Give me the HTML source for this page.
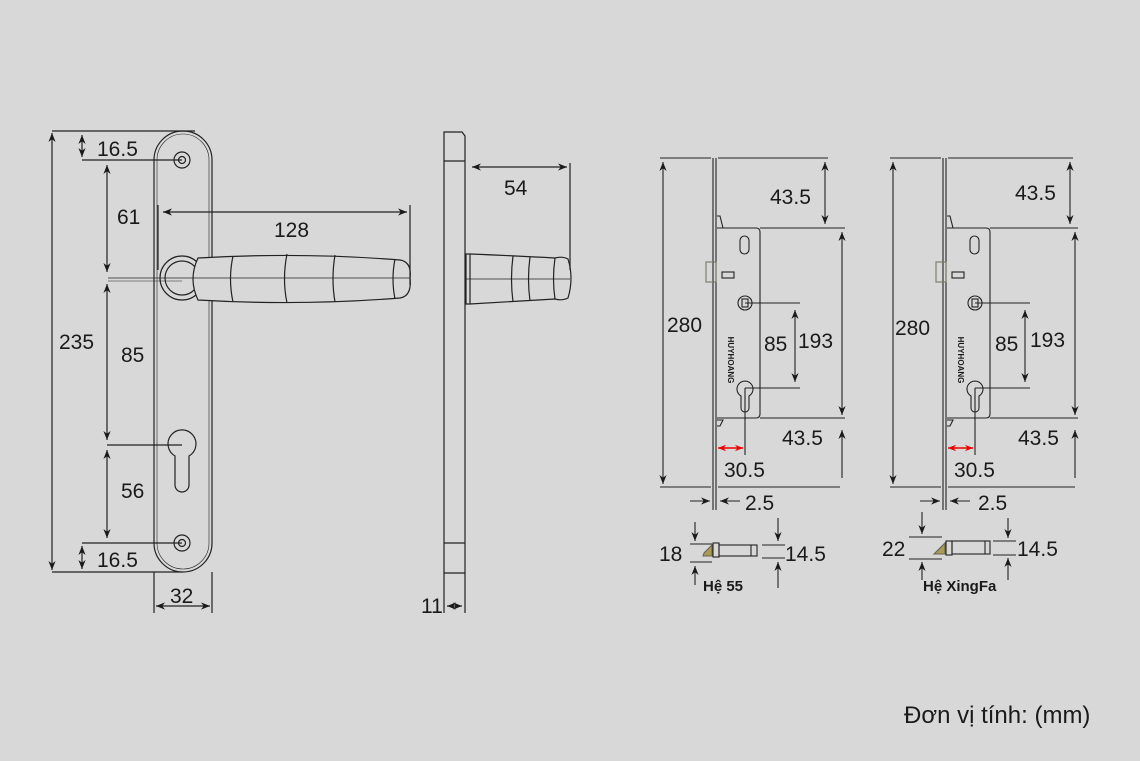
<!DOCTYPE html>
<html><head><meta charset="utf-8"><style>
body{margin:0;background:#d8d8d8;}
svg{display:block}
text{font-family:"Liberation Sans",sans-serif;fill:#1a1a1a;}
</style></head><body>
<svg width="1140" height="761" viewBox="0 0 1140 761" xmlns="http://www.w3.org/2000/svg">
<defs>
<marker id="a" viewBox="0 0 10 10" refX="10" refY="5" markerUnits="userSpaceOnUse" markerWidth="10" markerHeight="9" orient="auto-start-reverse"><path d="M0,1 L10,5 L0,9 L3,5z" fill="#1a1a1a"/></marker>
<marker id="r" viewBox="0 0 10 10" refX="10" refY="5" markerUnits="userSpaceOnUse" markerWidth="8" markerHeight="8" orient="auto-start-reverse"><path d="M0,1 L10,5 L0,9 L3,5z" fill="#e00"/></marker>
</defs>
<rect width="1140" height="761" fill="#d8d8d8"/>
<g stroke="#222" stroke-width="1.2" fill="none">
<rect x="154" y="131" width="58" height="441" rx="29"/>
<rect x="157" y="134" width="52" height="435" rx="26" stroke-width="0.6"/>
<circle cx="182" cy="160" r="8"/><circle cx="182" cy="160" r="3.5"/>
<circle cx="182" cy="543" r="8"/><circle cx="182" cy="543" r="3.5"/>
<path d="M175,456 A14,14 0 1 1 189,456 L189,485 A7,7 0 0 1 175,485 Z"/>
<circle cx="182" cy="278" r="22" fill="#d8d8d8"/>
<circle cx="182" cy="278" r="17"/>
<path d="M198,258 Q300,252 400,260 Q412,262 410,278 Q412,296 400,298 Q300,306 198,300 Q188,279 198,258Z" fill="#d8d8d8"/>
<path d="M233,256 Q228,279 233,302 M287,254 Q282,279 287,303 M335,255 Q331,279 335,302 M395,259 Q391,279 395,299"/>
<line x1="108" y1="278" x2="410" y2="278" stroke-width="0.8"/>
<line x1="108" y1="281" x2="182" y2="281" stroke-width="0.6"/>
<line x1="52" y1="131" x2="195" y2="131"/>
<line x1="52" y1="572" x2="182" y2="572"/>
<line x1="82" y1="160" x2="182" y2="160"/>
<line x1="82" y1="543" x2="182" y2="543"/>
<line x1="107" y1="445" x2="182" y2="445"/>
<line x1="52" y1="133" x2="52" y2="570" marker-start="url(#a)" marker-end="url(#a)"/>
<line x1="82" y1="135" x2="82" y2="157" marker-start="url(#a)" marker-end="url(#a)"/>
<line x1="82" y1="546" x2="82" y2="569" marker-start="url(#a)" marker-end="url(#a)"/>
<line x1="107" y1="165" x2="107" y2="272" marker-start="url(#a)" marker-end="url(#a)"/>
<line x1="107" y1="284" x2="107" y2="440" marker-start="url(#a)" marker-end="url(#a)"/>
<line x1="107" y1="450" x2="107" y2="538" marker-start="url(#a)" marker-end="url(#a)"/>
<line x1="158" y1="205" x2="158" y2="270"/>
<line x1="410" y1="205" x2="410" y2="285"/>
<line x1="163" y1="212" x2="407" y2="212" marker-start="url(#a)" marker-end="url(#a)"/>
<line x1="154" y1="572" x2="154" y2="613"/>
<line x1="212" y1="572" x2="212" y2="613"/>
<line x1="156" y1="606" x2="210" y2="606" marker-start="url(#a)" marker-end="url(#a)"/>
<path d="M444,573 L444,132 L462,132 L465,136 L465,573 Z"/>
<line x1="444" y1="161" x2="465" y2="161"/>
<line x1="444" y1="543" x2="465" y2="543"/>
<line x1="444" y1="573" x2="444" y2="613"/>
<line x1="465" y1="573" x2="465" y2="613"/>
<line x1="447" y1="606" x2="462" y2="606" marker-start="url(#a)" marker-end="url(#a)"/>
<path d="M466,254 L470,254 Q520,256 555,258 Q562,256 568,259 Q574,278 568,298 Q562,301 555,299 Q520,301 470,304 L466,304 Z"/>
<line x1="470" y1="254" x2="470" y2="304"/>
<path d="M513,256 Q510,279 513,302 M530,257 Q527,279 530,301 M555,258 Q552,279 555,299"/>
<line x1="466" y1="279" x2="570" y2="279" stroke-width="0.8"/>
<line x1="570" y1="163" x2="570" y2="270"/>
<line x1="472" y1="167" x2="567" y2="167" marker-start="url(#a)" marker-end="url(#a)"/>
</g>
<g font-size="21">
<text x="97" y="156">16.5</text>
<text x="117" y="224">61</text>
<text x="59" y="349">235</text>
<text x="121" y="362">85</text>
<text x="121" y="498">56</text>
<text x="97" y="567">16.5</text>
<text x="170" y="603">32</text>
<text x="274" y="237">128</text>
<text x="504" y="195">54</text>
<text x="421" y="613">11</text>
</g>

<g stroke="#222" stroke-width="1.1" fill="none">
<line x1="713" y1="158" x2="713" y2="510"/>
<line x1="716" y1="158" x2="716" y2="510"/>
<line x1="660" y1="158" x2="711" y2="158"/>
<line x1="718" y1="158" x2="828" y2="158"/>
<line x1="660" y1="487" x2="711" y2="487"/>
<line x1="718" y1="487" x2="840" y2="487"/>
<path d="M717,228 L756,228 Q760,228 760,232 L760,414 Q760,418 756,418 L717,418"/>
<path d="M717,216 L720,216 L723,228 M717,420 L723,420 L720,426 L717,426"/>
<rect x="706" y="262" width="10" height="20" stroke="#776"/>
<rect x="722" y="272" width="12" height="6"/>
<rect x="740" y="236" width="9" height="18" rx="4.5"/>
<circle cx="745" cy="303" r="7"/><rect x="742" y="299" width="6" height="8"/>
<path d="M741,396 A8,8 0 1 1 749,396 L749,408 A4,4 0 0 1 741,408 Z"/>
<line x1="745" y1="303" x2="800" y2="303"/>
<line x1="745" y1="388" x2="800" y2="388"/>
<line x1="745" y1="388" x2="745" y2="455"/>
<line x1="760" y1="228" x2="845" y2="228"/>
<line x1="760" y1="418" x2="845" y2="418"/>
<line x1="663" y1="162" x2="663" y2="484" marker-start="url(#a)" marker-end="url(#a)"/>
<line x1="825" y1="162" x2="825" y2="224" marker-start="url(#a)" marker-end="url(#a)"/>
<line x1="842" y1="232" x2="842" y2="415" marker-start="url(#a)" marker-end="url(#a)"/>
<line x1="842" y1="478" x2="842" y2="430" marker-end="url(#a)"/>
<line x1="795" y1="310" x2="795" y2="382" marker-start="url(#a)" marker-end="url(#a)"/>
<line x1="718" y1="448" x2="743" y2="448" stroke="#e00" stroke-width="1.5" marker-start="url(#r)" marker-end="url(#r)"/>
<line x1="690" y1="501" x2="710" y2="501" marker-end="url(#a)"/>
<line x1="740" y1="501" x2="720" y2="501" marker-end="url(#a)"/>
</g>
<g font-size="21">
<text x="667" y="332">280</text>
<text x="770" y="204">43.5</text>
<text x="798" y="348">193</text>
<text x="764" y="351">85</text>
<text x="782" y="445">43.5</text>
<text x="724" y="477">30.5</text>
<text x="745" y="510">2.5</text>
</g>
<text x="728" y="360" font-size="8" transform="rotate(90 728 360)" text-anchor="middle" font-weight="bold">HUYHOANG</text>

<g stroke="#222" stroke-width="1.1" fill="none" transform="translate(230,0)">
<line x1="713" y1="158" x2="713" y2="510"/>
<line x1="716" y1="158" x2="716" y2="510"/>
<line x1="660" y1="158" x2="711" y2="158"/>
<line x1="718" y1="158" x2="843" y2="158"/>
<line x1="660" y1="487" x2="711" y2="487"/>
<line x1="718" y1="487" x2="845" y2="487"/>
<path d="M717,228 L756,228 Q760,228 760,232 L760,414 Q760,418 756,418 L717,418"/>
<path d="M717,216 L720,216 L723,228 M717,420 L723,420 L720,426 L717,426"/>
<rect x="706" y="262" width="10" height="20" stroke="#776"/>
<rect x="722" y="272" width="12" height="6"/>
<rect x="740" y="236" width="9" height="18" rx="4.5"/>
<circle cx="745" cy="303" r="7"/><rect x="742" y="299" width="6" height="8"/>
<path d="M741,396 A8,8 0 1 1 749,396 L749,408 A4,4 0 0 1 741,408 Z"/>
<line x1="745" y1="303" x2="800" y2="303"/>
<line x1="745" y1="388" x2="800" y2="388"/>
<line x1="745" y1="388" x2="745" y2="455"/>
<line x1="760" y1="228" x2="848" y2="228"/>
<line x1="760" y1="418" x2="848" y2="418"/>
<line x1="663" y1="162" x2="663" y2="484" marker-start="url(#a)" marker-end="url(#a)"/>
<line x1="840" y1="162" x2="840" y2="224" marker-start="url(#a)" marker-end="url(#a)"/>
<line x1="845" y1="232" x2="845" y2="415" marker-start="url(#a)" marker-end="url(#a)"/>
<line x1="845" y1="478" x2="845" y2="430" marker-end="url(#a)"/>
<line x1="795" y1="310" x2="795" y2="382" marker-start="url(#a)" marker-end="url(#a)"/>
<line x1="718" y1="448" x2="743" y2="448" stroke="#e00" stroke-width="1.5" marker-start="url(#r)" marker-end="url(#r)"/>
<line x1="690" y1="501" x2="710" y2="501" marker-end="url(#a)"/>
<line x1="740" y1="501" x2="720" y2="501" marker-end="url(#a)"/>
</g>
<g font-size="21">
<text x="895" y="335">280</text>
<text x="1015" y="200">43.5</text>
<text x="1030" y="347">193</text>
<text x="995" y="351">85</text>
<text x="1018" y="445">43.5</text>
<text x="954" y="477">30.5</text>
<text x="978" y="510">2.5</text>
</g>
<text x="958" y="360" font-size="8" transform="rotate(90 958 360)" text-anchor="middle" font-weight="bold">HUYHOANG</text>

<g stroke="#222" stroke-width="1.1" fill="none">
<line x1="690" y1="544" x2="712" y2="544"/>
<line x1="690" y1="562" x2="712" y2="562"/>
<path d="M704,553 L712,545 L712,556 L703,556Z" fill="#a99a55" stroke="#665"/>
<rect x="713" y="543" width="6" height="14"/>
<rect x="719" y="545" width="38" height="11"/>
<line x1="751" y1="545" x2="751" y2="556"/>
<line x1="762" y1="545" x2="785" y2="545"/><line x1="762" y1="558" x2="785" y2="558"/>
<line x1="695" y1="522" x2="695" y2="541" marker-end="url(#a)"/>
<line x1="695" y1="585" x2="695" y2="566" marker-end="url(#a)"/>
<line x1="778" y1="518" x2="778" y2="541" marker-end="url(#a)"/>
<line x1="778" y1="588" x2="778" y2="562" marker-end="url(#a)"/>
<line x1="909" y1="537" x2="942" y2="537"/>
<line x1="909" y1="559" x2="942" y2="559"/>
<path d="M935,553 L945,543 L945,554 L934,554Z" fill="#a99a55" stroke="#665"/>
<rect x="946" y="541" width="6" height="14"/>
<rect x="952" y="541" width="38" height="13"/>
<line x1="985" y1="541" x2="985" y2="554"/>
<line x1="993" y1="541" x2="1016" y2="541"/><line x1="993" y1="555" x2="1016" y2="555"/>
<line x1="922" y1="512" x2="922" y2="534" marker-end="url(#a)"/>
<line x1="922" y1="580" x2="922" y2="562" marker-end="url(#a)"/>
<line x1="1008" y1="518" x2="1008" y2="538" marker-end="url(#a)"/>
<line x1="1008" y1="580" x2="1008" y2="558" marker-end="url(#a)"/>
</g>
<g font-size="21">
<text x="659" y="561">18</text>
<text x="785" y="561">14.5</text>
<text x="882" y="556">22</text>
<text x="1017" y="556">14.5</text>
</g>
<text x="703" y="591" font-size="15" font-weight="bold">Hệ 55</text>
<text x="923" y="591" font-size="15" font-weight="bold">Hệ XingFa</text>
<text x="904" y="723" font-size="24">Đơn vị tính: (mm)</text>
</svg>
</body></html>
